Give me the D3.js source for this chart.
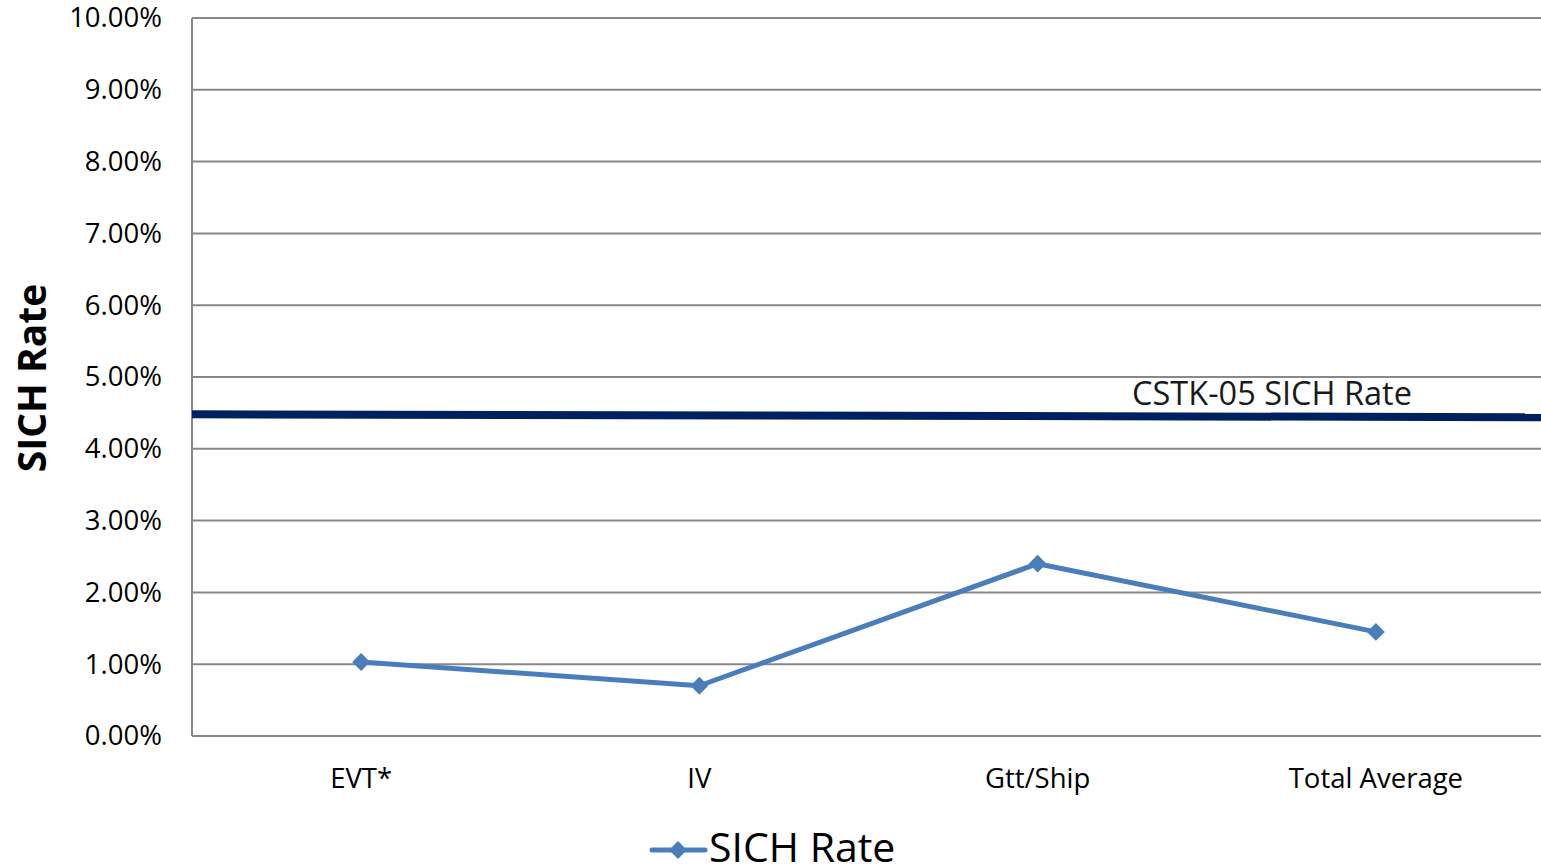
<!DOCTYPE html>
<html><head><meta charset="utf-8">
<script src="https://cdn.jsdelivr.net/npm/d3@7"></script>
<style>body{margin:0;background:#fff;overflow:hidden}svg{display:block}text{font-family:"Open Sans",sans-serif}</style>
</head><body>
<svg id="c" width="1541" height="867"></svg>
<script>
const categories = ["EVT*", "IV", "Gtt/Ship", "Total Average"];
const sichRate = [0.0103, 0.0070, 0.0240, 0.0145];
const refStartEnd = [0.0448, 0.0444];
const refLabel = "CSTK-05 SICH Rate";
const yTicks = [0,0.01,0.02,0.03,0.04,0.05,0.06,0.07,0.08,0.09,0.10];
const seriesName = "SICH Rate";
const yTitle = "SICH Rate";

const svg = d3.select("#c");
const L = 192, R = 1545, T = 18, B = 736;
const x = d3.scaleBand().domain(categories).range([L, R]);
const y = d3.scaleLinear().domain([0, 0.10]).range([B, T]);

// gridlines
svg.append("g").selectAll("line").data(yTicks).join("line")
  .attr("x1", L).attr("x2", R).attr("y1", d => y(d)).attr("y2", d => y(d))
  .attr("stroke", "#888").attr("stroke-width", 2);
// left axis line
svg.append("line").attr("x1", L).attr("x2", L).attr("y1", T).attr("y2", B)
  .attr("stroke", "#888").attr("stroke-width", 2);

// y tick labels
const yAxis = d3.axisLeft(y).tickValues(yTicks).tickSize(0).tickPadding(30)
  .tickFormat(d => (d*100).toFixed(2) + "%");
const gy = svg.append("g").attr("transform", `translate(${L},0)`).call(yAxis);
gy.select(".domain").remove();
gy.selectAll("text").attr("font-size", 27.5).attr("fill", "#000")
  .attr("font-family", "'Open Sans',sans-serif");

// x labels
const xAxis = d3.axisBottom(x).tickSize(0).tickPadding(32);
const gx = svg.append("g").attr("transform", `translate(0,${B})`).call(xAxis);
gx.select(".domain").remove();
gx.selectAll("text").attr("font-size", 27.5).attr("fill", "#000")
  .attr("font-family", "'Open Sans',sans-serif");

// reference line
const xr = d3.scaleLinear().domain([0, 1]).range([L, R]);
svg.append("line").attr("x1", xr(0)).attr("x2", xr(1))
  .attr("y1", y(refStartEnd[0])).attr("y2", y(refStartEnd[1]))
  .attr("stroke", "#002060").attr("stroke-width", 8);
svg.append("text").attr("x", 1272).attr("y", 405).attr("text-anchor", "middle")
  .attr("font-size", 32.5).attr("fill", "#1a1a1a").text(refLabel);

// series line
const data = categories.map((c, i) => ({c, v: sichRate[i]}));
const cx = d => x(d.c) + x.bandwidth()/2;
svg.append("path").datum(data)
  .attr("d", d3.line().x(cx).y(d => y(d.v)))
  .attr("fill", "none").attr("stroke", "#4A7EBB").attr("stroke-width", 5)
  .attr("stroke-linejoin", "round");
svg.append("g").selectAll("path").data(data).join("path")
  .attr("d", d3.symbol().type(d3.symbolSquare).size(160))
  .attr("transform", d => `translate(${cx(d)},${y(d.v)}) rotate(45)`)
  .attr("fill", "#4A7EBB");

// y title
svg.append("text").attr("transform", "translate(46,378) rotate(-90)")
  .attr("text-anchor", "middle").attr("font-size", 39).attr("font-weight", "bold")
  .attr("fill", "#000").text(yTitle);

// legend
const lg = svg.append("g");
lg.append("line").attr("x1", 652).attr("x2", 705).attr("y1", 850).attr("y2", 850)
  .attr("stroke", "#4A7EBB").attr("stroke-width", 5).attr("stroke-linecap", "round");
lg.append("path").attr("d", d3.symbol().type(d3.symbolSquare).size(160))
  .attr("transform", "translate(678,850) rotate(45)").attr("fill", "#4A7EBB");
lg.append("text").attr("x", 709).attr("y", 862).attr("font-size", 41)
  .attr("fill", "#000").text(seriesName);
</script>
</body></html>
